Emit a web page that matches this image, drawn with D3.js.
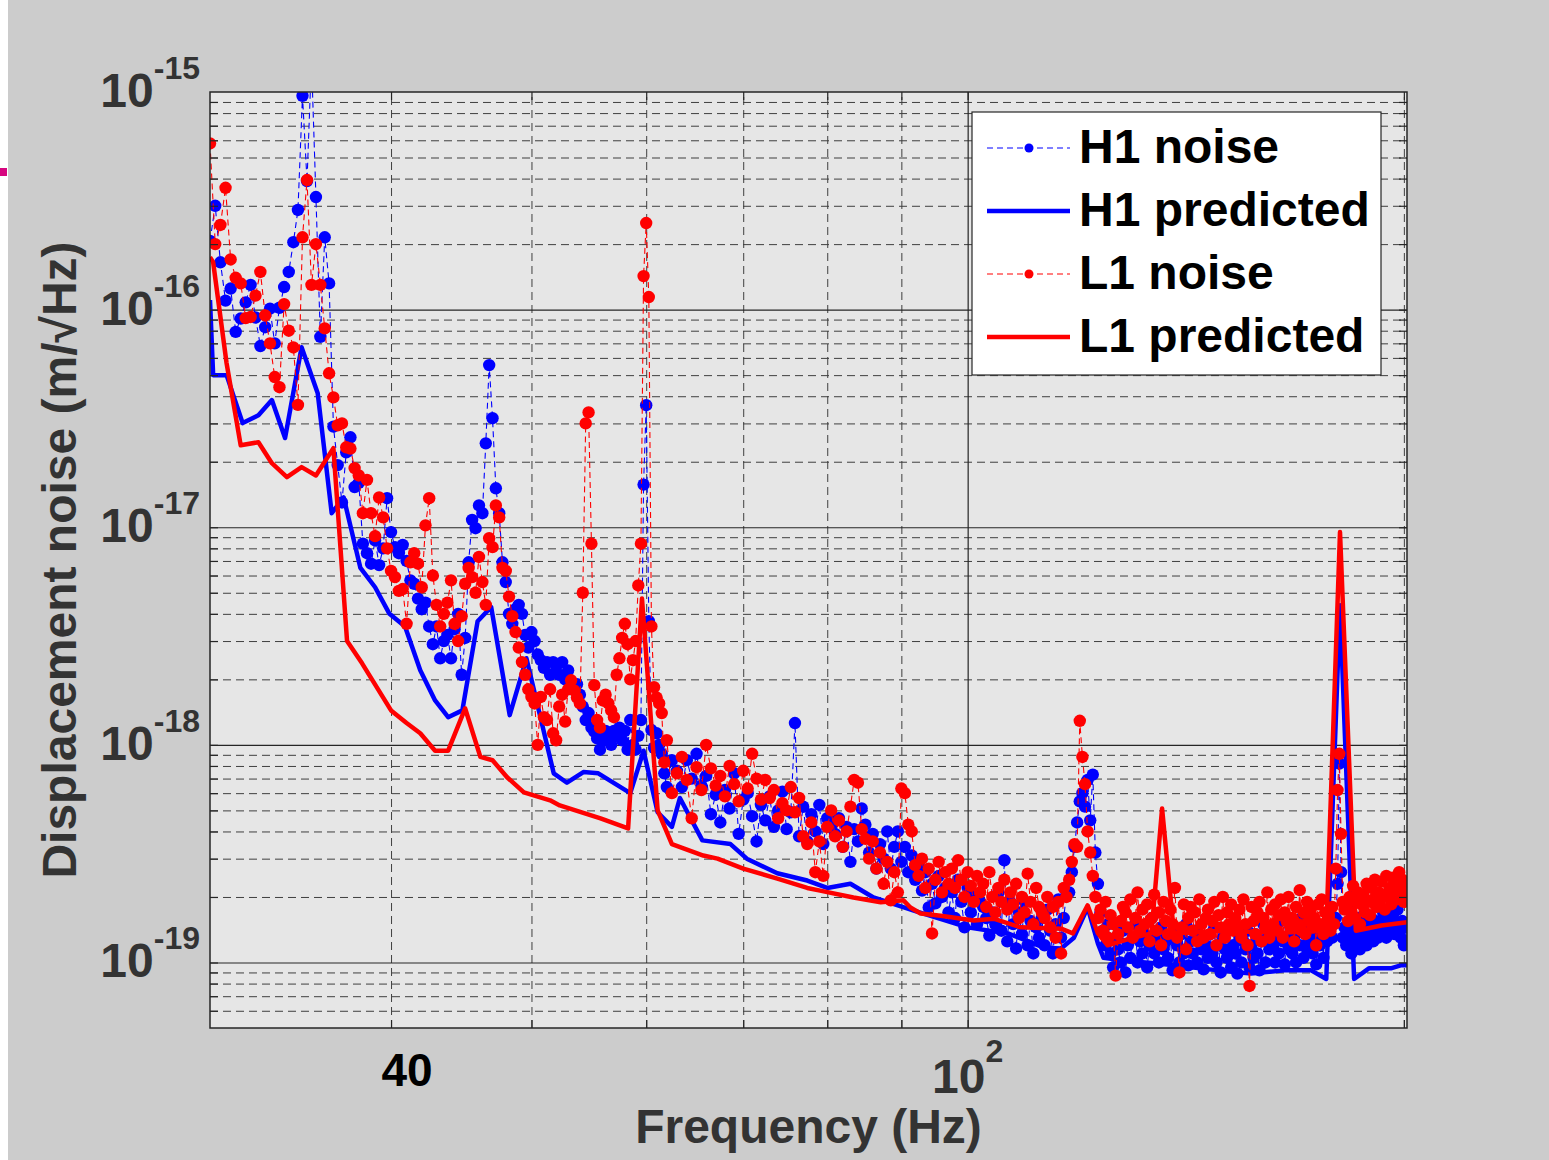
<!DOCTYPE html>
<html>
<head>
<meta charset="utf-8">
<script src="https://cdn.jsdelivr.net/npm/d3@7"></script>
<style>
  body { margin: 0; background: #ffffff; }
  text { font-family: 'Liberation Sans', Arial, Helvetica, sans-serif; font-weight: bold; }
</style>
</head>
<body>
<svg id="chart"></svg>
<script>
// all amplitudes below are in units of 1e-19 m/sqrt(Hz)
const UNIT = 1e-19;

// noise spectra: 0.25 Hz bins from 30 to 62 Hz, 0.5 Hz bins from 62.5 to 201 Hz
const lowBinStart = 30, lowBinStep = 0.25;
const highBinStart = 62.5, highBinStep = 0.5;

const h1NoiseLow = [
  2070, 3000, 1650, 1100, 1250, 790, 910, 1080, 1300, 920, 680, 830,
  1010, 700, 1020, 1270, 1490, 2040, 2870, 9600, 3900, 14000, 3290, 750,
  2150, 1320, 290, 193, 130, 221, 259, 153, 160, 84, 76, 68,
  87, 67, 80, 136, 95, 81, 76, 83, 70, 57, 55, 47,
  42, 45, 35, 29, 35, 25, 30, 32, 25, 34, 40, 21,
  31, 69, 108, 99, 126, 116, 243, 556, 317, 151, 116, 69,
  56, 40, 36, 42, 44, 40, 32, 28, 33, 30, 26, 24.5,
  22.6, 24, 21, 24, 23, 21, 24, 20, 22, 19, 18, 19,
  17, 15, 13, 14, 12, 11.5, 10.7, 9.5, 10.5, 11.6, 11, 10,
  11.6, 11, 12, 10.5, 11.6, 9.5, 13, 10, 9.5, 11, 13, 157,
  364, 37, 11.7, 9.7, 11.3, 10, 9.1, 7.4, 6.4
];

const l1NoiseLow = [
  5800, 2000, 2450, 3630, 1700, 1400, 1320, 914, 925, 1160, 1490, 940,
  700, 490, 440, 1060, 800, 670, 365, 2150, 3940, 1300, 2000, 1300,
  820, 510, 395, 294, 300, 233, 230, 187, 173, 116, 165, 116,
  91, 137, 111, 80, 63, 59, 51, 52, 36, 69, 76, 68,
  53, 102, 136, 60, 44, 35, 40, 45, 57, 36, 30, 39,
  55, 65, 59, 50, 73, 56, 44, 89, 81, 126, 111, 65,
  63, 48, 39, 33, 28, 24, 21, 18, 16.6, 15.5, 10, 16.6,
  13.4, 13, 18, 11.3, 10.5, 15, 17, 12.8, 18, 19.8, 17.8, 16.5,
  15.5, 50, 300, 337, 84, 18.8, 13, 12, 16, 17, 15.5, 14.4,
  13.4, 21, 25, 31, 36, 29, 20, 24.5, 30, 54, 84, 1426,
  2500, 1142, 35, 18.4, 16.5, 15.5, 14, 8.3, 10.5
];

const h1NoiseHigh = [
  8.5, 7.6, 6.4, 8.5, 7.0, 9.1, 6.5, 7.2, 4.8, 5.9,
  4.4, 6.2, 5.1, 7.4, 3.9, 5.6, 6.0, 4.7, 3.6, 5.3,
  4.5, 5.8, 4.2, 5.0, 6.1, 4.1, 4.9, 12.6, 3.8, 5.2,
  3.6, 4.8, 4.0, 5.3, 3.5, 4.6, 4.2, 3.9, 4.6, 3.4,
  4.2, 2.9, 4.1, 3.6, 5.1, 4.3, 3.2, 3.9, 2.7, 3.5,
  3.0, 4.0, 2.7, 3.4, 4.0, 2.9, 3.4, 2.6, 3.1, 2.4,
  2.8, 2.14, 2.6, 1.79, 2.3, 1.87, 2.5, 2.0, 2.2, 1.7,
  2.1, 1.6, 2.4, 1.9, 1.45, 2.2, 1.7, 2.0, 1.5, 1.9,
  1.8, 1.6, 1.33, 1.7, 1.5, 2.1, 1.4, 2.95, 1.25, 1.9,
  1.5, 1.16, 1.7, 1.35, 1.9, 1.2, 1.55, 1.1, 1.45, 1.3,
  1.6, 1.2, 1.75, 1.4, 1.1, 1.5, 1.95, 1.3, 1.6, 2.1,
  2.1, 2.6, 3.4, 4.4, 5.5, 6.0, 5.2, 6.9, 4.5, 7.3,
  3.2, 2.3, 1.7, 1.4, 1.2, 1.5, 1.1, 0.95, 1.3, 1.15,
  1.0, 1.4, 0.9, 1.2, 1.05, 1.3, 1.5, 1.0, 1.25, 1.1,
  1.35, 0.95, 1.2, 1.6, 1.1, 1.3, 1.0, 1.45, 1.15, 1.25,
  1.05, 1.3, 0.92, 1.4, 1.2, 1.0, 1.35, 1.1, 1.5, 0.97,
  1.25, 1.1, 1.4, 1.0, 1.3, 1.15, 0.93, 1.2, 1.05, 1.35,
  1.1, 1.45, 1.0, 1.2, 0.9, 1.3, 1.15, 1.05, 1.4, 0.95,
  1.2, 1.1, 0.89, 1.3, 1.0, 1.25, 1.15, 1.4, 0.95, 1.2,
  1.05, 1.35, 1.1, 0.92, 1.25, 1.5, 1.0, 1.3, 1.15, 1.4,
  1.2, 1.0, 1.35, 1.1, 1.55, 1.25, 0.98, 1.3, 1.15, 1.45,
  1.1, 1.3, 1.0, 1.4, 1.2, 1.6, 1.05, 1.35, 1.15, 1.25,
  1.5, 1.1, 1.3, 0.98, 1.4, 1.2, 1.35, 1.05, 1.5, 1.25,
  1.4, 1.6, 1.3, 1.5, 1.6, 2.3, 8.2, 2.6, 1.3, 1.45,
  1.2, 1.35, 1.5, 1.1, 1.3, 1.45, 1.25, 1.6, 1.15, 1.4,
  1.3, 1.55, 1.2, 1.45, 1.35, 1.6, 1.25, 1.5, 1.4, 1.3,
  1.55, 1.35, 1.7, 1.45, 1.3, 1.6, 1.5, 1.4, 1.65, 1.35,
  1.5, 1.75, 1.4, 1.3, 1.55, 1.2, 1.45, 1.25
];

const l1NoiseHigh = [
  6.0, 7.4, 8.8, 6.9, 4.6, 7.9, 6.2, 10, 7.8, 6.5,
  7.2, 5.8, 8.0, 6.6, 5.5, 7.6, 6.3, 9.1, 7.0, 5.6,
  6.9, 5.7, 6.2, 4.6, 5.4, 5.0, 6.4, 4.9, 5.7, 3.8,
  3.5, 4.4, 2.6, 3.6, 2.5, 4.2, 5.0, 3.8, 4.5, 3.4,
  4.0, 5.2, 6.9, 6.7, 4.1, 3.7, 3.0, 3.6, 2.7, 3.2,
  2.3, 2.9, 1.93, 2.6, 2.1, 6.3, 6.0, 4.3, 4.0, 2.8,
  2.5, 3.0, 2.2, 2.7, 1.36, 2.4, 2.9, 2.1, 2.6, 2.3,
  2.7, 2.2, 2.95, 2.4, 2.0, 2.6, 2.25, 1.9, 2.5, 2.1,
  2.3, 1.8, 2.6, 2.0, 1.7, 2.2, 1.9, 2.4, 1.75, 2.1,
  1.85, 2.3, 1.6, 2.0, 1.7, 2.56, 1.9, 1.5, 2.2, 1.8,
  1.7, 1.6, 2.0, 1.45, 1.8, 1.3, 1.9, 1.1, 2.2, 2.0,
  2.4, 2.9, 3.5, 3.4, 12.9, 8.8, 6.6, 4.0, 3.2, 2.5,
  2.0, 1.6, 1.75, 1.4, 1.9, 1.3, 1.65, 1.5, 0.87, 1.35,
  1.55, 1.8, 1.7, 1.45, 1.95, 1.3, 1.6, 2.1, 1.4, 1.75,
  1.5, 1.85, 1.25, 1.6, 2.05, 1.4, 1.7, 1.2, 1.9, 1.55,
  1.35, 1.75, 1.5, 2.2, 1.3, 0.9, 1.45, 1.85, 1.15, 1.6,
  1.8, 1.4, 1.7, 1.25, 1.95, 1.5, 1.3, 1.6, 1.75, 1.35,
  1.55, 1.9, 1.2, 1.65, 1.45, 2.0, 1.3, 1.7, 1.5, 1.85,
  1.4, 1.6, 1.45, 1.75, 1.3, 1.95, 1.5, 1.2, 0.78, 1.8,
  1.55, 1.35, 1.7, 1.9, 1.25, 1.6, 1.45, 2.1, 1.3, 1.75,
  1.5, 1.85, 1.4, 1.65, 1.95, 1.3, 1.7, 1.55, 2.0, 1.45,
  1.6, 1.25, 1.8, 1.5, 2.15, 1.4, 1.7, 1.35, 1.9, 1.55,
  1.75, 1.45, 1.6, 1.2, 1.85, 1.5, 1.95, 1.35, 1.7, 1.55,
  1.65, 1.4, 1.8, 1.5, 2.7, 6.2, 9.1, 3.9, 1.9, 1.75,
  1.8, 1.55, 2.0, 1.7, 2.25, 1.6, 1.9, 2.1, 1.5, 1.85,
  2.05, 1.7, 2.3, 1.9, 1.65, 2.2, 1.95, 2.4, 1.8, 2.1,
  1.9, 2.35, 2.05, 1.75, 2.5, 2.0, 2.2, 1.85, 2.45, 2.1,
  2.3, 1.95, 2.6, 2.15, 2.4, 1.9, 2.25, 2.0
];

// predicted curves
const h1PredFreq = [
  30, 30.15, 30.8, 31.6, 32.4, 33.1, 33.8, 34.7, 35.6, 36.4, 37.1, 38.1, 39.0, 39.9,
  40.9, 41.9, 42.9, 43.8, 44.8, 45.9, 46.9, 48.3, 49.6, 51.8, 52.9, 54.3, 55.6, 58.5,
  59.75, 61.1, 62.5, 63.3, 65.6, 68.6, 70.4, 73.9, 77.5, 80.0, 83.0, 86.1, 91.8, 100,
  106.6, 108.8, 112.9, 116, 118.4, 121, 123, 124.1, 128.2, 135.3, 148.8, 156.9, 165.4,
  172.6, 176.8, 180.7, 184.8, 189.2, 195.9, 199, 201
];
const h1PredVal = [
  1106, 500, 500, 301, 327, 384, 257, 672, 413, 116, 137, 65, 53, 40,
  35, 22, 16, 13.4, 14.4, 37, 43, 13.7, 25, 7.4, 6.7, 7.5, 7.4, 6.0,
  9.4, 4.9, 4.2, 5.7, 3.64, 3.5, 3.0, 2.57, 2.38, 2.2, 2.3, 1.99, 1.73, 1.45,
  1.36, 1.29, 1.17, 1.16, 1.3, 1.79, 1.22, 1.05, 1.02, 0.99, 0.92, 0.89, 0.92,
  0.92, 0.84, 43.8, 0.84, 0.94, 0.94, 0.97, 0.97
];

const l1PredFreq = [
  30, 30.15, 30.8, 31.5, 32.4, 33.1, 33.9, 34.7, 35.5, 36.5, 37.3, 38.2, 40.0, 41.0,
  41.9, 42.9, 43.8, 45.0, 46.1, 47.0, 48.1, 49.4, 51.5, 52.3, 55.8, 58.3, 59.6, 61.1,
  62.5, 65.7, 67.2, 70.0, 73.9, 77.5, 79.1, 83.4, 87.1, 90.3, 91.3, 92.8, 95.8, 101,
  104.2, 108.8, 116, 118.2, 121, 123, 124.9, 129.6, 133.9, 136.2, 138.8, 149.5, 164.5,
  176.8, 180.7, 185.3, 193, 201
];
const l1PredVal = [
  1743, 1653, 568, 238, 246, 197, 170, 189, 173, 231, 30, 23.7, 14.4, 12.6,
  11.3, 9.4, 9.4, 14.7, 8.8, 8.5, 7.1, 6.05, 5.56, 5.27, 4.59, 4.13, 47, 5.0,
  3.5, 3.1, 3.0, 2.7, 2.43, 2.2, 2.14, 1.99, 1.89, 1.93, 1.79, 1.68, 1.64, 1.56,
  1.59, 1.45, 1.43, 1.36, 1.83, 1.36, 1.2, 1.29, 1.36, 5.1, 1.36, 1.4, 1.37,
  1.4, 95, 1.4, 1.48, 1.53
];

const yTickExponents = [-15, -16, -17, -18, -19];
const xMinorTicks = [40, 50, 60, 70, 80, 90, 200];
const xMajorTicks = [100];
const legendLabels = ['H1 noise', 'H1 predicted', 'L1 noise', 'L1 predicted'];

const width = 1549;
const height = 1160;
const plot = { left: 210, right: 1407, top: 92, bottom: 1028 };
const blue = '#0000ff';
const red = '#ff0000';
const markerR = 6.2;

function noiseSeries(lowVals, highVals) {
  const low = lowVals.map((v, i) => ({ f: lowBinStart + i * lowBinStep, v: v * UNIT }));
  const high = highVals.map((v, i) => ({ f: highBinStart + i * highBinStep, v: v * UNIT }));
  return low.concat(high);
}

function predSeries(freqs, vals) {
  return freqs.map((f, i) => ({ f: f, v: vals[i] * UNIT }));
}

const h1Noise = noiseSeries(h1NoiseLow, h1NoiseHigh);
const l1Noise = noiseSeries(l1NoiseLow, l1NoiseHigh);
const h1Pred = predSeries(h1PredFreq, h1PredVal);
const l1Pred = predSeries(l1PredFreq, l1PredVal);

const svg = d3.select('#chart')
    .attr('width', width)
    .attr('height', height);

// figure background
svg.append('rect')
    .attr('x', 8)
    .attr('y', 0)
    .attr('width', width - 8)
    .attr('height', height)
    .attr('fill', '#cccccc');

svg.append('rect')
    .attr('x', 0)
    .attr('y', 168)
    .attr('width', 7)
    .attr('height', 8)
    .attr('fill', '#d6067f');

const xScale = d3.scaleLog()
    .domain([30, 201])
    .range([plot.left, plot.right]);

const yScale = d3.scaleLog()
    .domain([5e-20, 1e-15])
    .range([plot.bottom, plot.top]);

const plotW = plot.right - plot.left;
const plotH = plot.bottom - plot.top;

svg.append('rect')
    .attr('x', plot.left)
    .attr('y', plot.top)
    .attr('width', plotW)
    .attr('height', plotH)
    .attr('fill', '#e6e6e6');

// grid values
const yMajor = [];
const yMinor = [];
for (let e = -20; e <= -16; e++) {
  for (let m = 1; m <= 9; m++) {
    const v = m * Math.pow(10, e);
    if (v < 5.5e-20 || v > 9.5e-16) continue;
    if (m === 1) yMajor.push(v); else yMinor.push(v);
  }
}

const grid = svg.append('g');

grid.append('g')
    .attr('transform', `translate(${plot.left},0)`)
    .call(d3.axisLeft(yScale).tickValues(yMinor).tickSize(-plotW).tickFormat(''))
    .call(g => g.select('.domain').remove())
    .selectAll('line')
    .attr('stroke', '#3f3f3f')
    .attr('stroke-width', 1)
    .attr('stroke-dasharray', '8,5');

grid.append('g')
    .attr('transform', `translate(0,${plot.bottom})`)
    .call(d3.axisBottom(xScale).tickValues(xMinorTicks).tickSize(-plotH).tickFormat(''))
    .call(g => g.select('.domain').remove())
    .selectAll('line')
    .attr('stroke', '#3f3f3f')
    .attr('stroke-width', 1)
    .attr('stroke-dasharray', '8,5');

grid.append('g')
    .attr('transform', `translate(${plot.left},0)`)
    .call(d3.axisLeft(yScale).tickValues(yMajor).tickSize(-plotW).tickFormat(''))
    .call(g => g.select('.domain').remove())
    .selectAll('line')
    .attr('stroke', '#262626')
    .attr('stroke-width', 1.2);

grid.append('g')
    .attr('transform', `translate(0,${plot.bottom})`)
    .call(d3.axisBottom(xScale).tickValues(xMajorTicks).tickSize(-plotH).tickFormat(''))
    .call(g => g.select('.domain').remove())
    .selectAll('line')
    .attr('stroke', '#262626')
    .attr('stroke-width', 1.2);

// data
svg.append('defs')
  .append('clipPath')
    .attr('id', 'plot-clip')
  .append('rect')
    .attr('x', plot.left)
    .attr('y', plot.top)
    .attr('width', plotW)
    .attr('height', plotH);

const chart = svg.append('g')
    .attr('clip-path', 'url(#plot-clip)');

const line = d3.line()
    .x(d => xScale(d.f))
    .y(d => yScale(d.v));

function drawNoise(data, color) {
  chart.append('path')
      .datum(data)
      .attr('d', line)
      .attr('fill', 'none')
      .attr('stroke', color)
      .attr('stroke-width', 1.1)
      .attr('stroke-dasharray', '6,4');

  chart.append('g')
    .selectAll('circle')
    .data(data)
    .enter()
    .append('circle')
      .attr('cx', d => xScale(d.f))
      .attr('cy', d => yScale(d.v))
      .attr('r', markerR)
      .attr('fill', color);
}

function drawPred(data, color) {
  chart.append('path')
      .datum(data)
      .attr('d', line)
      .attr('fill', 'none')
      .attr('stroke', color)
      .attr('stroke-width', 4.5)
      .attr('stroke-linejoin', 'round');
}

drawNoise(h1Noise, blue);
drawPred(h1Pred, blue);
drawNoise(l1Noise, red);
drawPred(l1Pred, red);

// axes box and inward ticks
const allY = yMajor.concat(yMinor);
const allX = xMinorTicks.concat(xMajorTicks);
const tickLen = 8;

function styleAxis(g) {
  g.select('.domain').remove();
  g.selectAll('line').attr('stroke', '#262626').attr('stroke-width', 1.2);
}

svg.append('g')
    .attr('transform', `translate(${plot.left},0)`)
    .call(d3.axisLeft(yScale).tickValues(allY).tickSize(-tickLen).tickFormat(''))
    .call(styleAxis);
svg.append('g')
    .attr('transform', `translate(${plot.right},0)`)
    .call(d3.axisRight(yScale).tickValues(allY).tickSize(-tickLen).tickFormat(''))
    .call(styleAxis);
svg.append('g')
    .attr('transform', `translate(0,${plot.bottom})`)
    .call(d3.axisBottom(xScale).tickValues(allX).tickSize(-tickLen).tickFormat(''))
    .call(styleAxis);
svg.append('g')
    .attr('transform', `translate(0,${plot.top})`)
    .call(d3.axisTop(xScale).tickValues(allX).tickSize(-tickLen).tickFormat(''))
    .call(styleAxis);

svg.append('rect')
    .attr('x', plot.left)
    .attr('y', plot.top)
    .attr('width', plotW)
    .attr('height', plotH)
    .attr('fill', 'none')
    .attr('stroke', '#262626')
    .attr('stroke-width', 1.5);

// tick labels
yTickExponents.forEach(e => {
  const t = svg.append('text')
      .attr('x', 200)
      .attr('y', yScale(Math.pow(10, e)) + 15)
      .attr('text-anchor', 'end')
      .attr('fill', '#333333')
      .style('font-size', '48px');
  t.append('tspan').text('10');
  t.append('tspan')
      .attr('dy', -28)
      .style('font-size', '32px')
      .text(String(e));
});

svg.append('text')
    .attr('x', xScale(40) + 16)
    .attr('y', 1086)
    .attr('text-anchor', 'middle')
    .attr('fill', '#000000')
    .style('font-size', '46px')
    .text('40');

const x100 = svg.append('text')
    .attr('x', xScale(100))
    .attr('y', 1093)
    .attr('text-anchor', 'middle')
    .attr('fill', '#333333')
    .style('font-size', '48px');
x100.append('tspan').text('10');
x100.append('tspan')
    .attr('dy', -31)
    .style('font-size', '32px')
    .text('2');

// axis titles
svg.append('text')
    .attr('x', (plot.left + plot.right) / 2)
    .attr('y', 1143)
    .attr('text-anchor', 'middle')
    .attr('fill', '#333333')
    .style('font-size', '48px')
    .text('Frequency (Hz)');

svg.append('text')
    .attr('transform', `translate(76,${(plot.top + plot.bottom) / 2}) rotate(-90)`)
    .attr('text-anchor', 'middle')
    .attr('fill', '#333333')
    .style('font-size', '48px')
    .text('Displacement noise (m/\u221AHz)');

// legend
const legend = svg.append('g');

legend.append('rect')
    .attr('x', 972)
    .attr('y', 112)
    .attr('width', 409)
    .attr('height', 263)
    .attr('fill', '#ffffff')
    .attr('stroke', '#262626')
    .attr('stroke-width', 1.2);

const legendStyles = [
  { color: blue, noise: true },
  { color: blue, noise: false },
  { color: red, noise: true },
  { color: red, noise: false }
];

legendLabels.forEach((label, i) => {
  const cy = 148 + i * 63;
  const st = legendStyles[i];
  legend.append('line')
      .attr('x1', 987)
      .attr('x2', 1070)
      .attr('y1', cy)
      .attr('y2', cy)
      .attr('stroke', st.color)
      .attr('stroke-width', st.noise ? 1.1 : 4.5)
      .attr('stroke-dasharray', st.noise ? '6,4' : null);
  if (st.noise) {
    legend.append('circle')
        .attr('cx', 1029)
        .attr('cy', cy)
        .attr('r', 4.5)
        .attr('fill', st.color);
  }
  legend.append('text')
      .attr('x', 1079)
      .attr('y', cy + 15)
      .attr('fill', '#000000')
      .style('font-size', '48px')
      .text(label);
});
</script>
</body>
</html>
